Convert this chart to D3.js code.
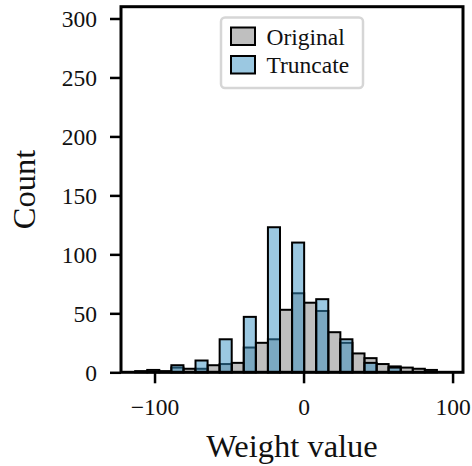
<!DOCTYPE html>
<html>
<head>
<meta charset="utf-8">
<script src="https://cdn.jsdelivr.net/npm/d3@7"></script>
<style>
  html, body { margin: 0; padding: 0; background: #fff; }
  svg { display: block; font-family: "Liberation Serif", "DejaVu Serif", serif; }
</style>
</head>
<body>
<div id="chart-area"></div>
<script>
// shared bin edges (weight value)
const binEdges = [-113, -104.9, -96.8, -88.7, -80.6, -72.5, -64.4, -56.3, -48.2, -40.1,
  -32, -23.9, -15.8, -7.7, 0.4, 8.5, 16.6, 24.7, 32.8, 40.9, 49, 57.1, 65.2, 73.3, 81.4, 89.5];
const originalCounts = [1, 2, 1, 4, 3, 3, 6, 7, 8, 21, 25, 28, 53, 67, 59, 52, 34, 25, 16, 12, 7, 5, 4, 3, 2];
const truncateCounts = [0, 0, 0, 6, 0, 10, 0, 28, 0, 47, 0, 123, 0, 110, 0, 62, 0, 28, 0, 8, 0, 4, 0, 0, 0];
const seriesNames = ["Original", "Truncate"];
const xTicks = [-100, 0, 100];
const yTicks = [0, 50, 100, 150, 200, 250, 300];

const width = 472;
const height = 466;
const box = { left: 121, right: 463, top: 6.7, bottom: 372.3 };

const grayFill = "rgba(128,128,128,0.5)";
const blueFill = "rgba(55,145,195,0.5)";

const svg = d3
  .select("#chart-area")
  .append("svg")
  .attr("width", width)
  .attr("height", height);

const x = d3.scaleLinear().domain([-122.5, 107]).range([box.left, box.right]);
const y = d3.scaleLinear().domain([0, 310]).range([box.bottom, box.top]);

const bins = (counts) =>
  counts.map((c, i) => ({ x0: binEdges[i], x1: binEdges[i + 1], count: c })).filter((d) => d.count > 0);

function drawBars(data, fill) {
  svg
    .append("g")
    .selectAll("rect")
    .data(data)
    .join("rect")
    .attr("x", (d) => x(d.x0))
    .attr("width", (d) => x(d.x1) - x(d.x0))
    .attr("y", (d) => y(d.count))
    .attr("height", (d) => y(0) - y(d.count))
    .attr("fill", fill)
    .attr("stroke", "#000")
    .attr("stroke-width", 2);
}

drawBars(bins(originalCounts), grayFill);
drawBars(bins(truncateCounts), blueFill);

// x axis
const xAxis = svg
  .append("g")
  .attr("transform", `translate(0, ${box.bottom})`)
  .call(
    d3
      .axisBottom(x)
      .tickValues(xTicks)
      .tickSize(11)
      .tickSizeOuter(0)
      .tickPadding(8)
      .tickFormat((d) => (d < 0 ? "\u2212" + Math.abs(d) : d))
  );
xAxis.select(".domain").remove();
xAxis.selectAll("line").attr("stroke", "#000").attr("stroke-width", 2.5);
xAxis
  .selectAll("text")
  .attr("font-family", "Liberation Serif, serif")
  .attr("font-size", 23.5)
  .attr("fill", "#111")
  .attr("dy", null)
  .attr("y", 43);

// y axis
const yAxis = svg
  .append("g")
  .attr("transform", `translate(${box.left}, 0)`)
  .call(d3.axisLeft(y).tickValues(yTicks).tickSize(11).tickSizeOuter(0).tickPadding(13));
yAxis.select(".domain").remove();
yAxis.selectAll("line").attr("stroke", "#000").attr("stroke-width", 2.5);
yAxis
  .selectAll("text")
  .attr("font-family", "Liberation Serif, serif")
  .attr("font-size", 23.5)
  .attr("fill", "#111")
  .attr("dy", "0.34em");

// frame
svg
  .append("rect")
  .attr("x", box.left)
  .attr("y", box.top)
  .attr("width", box.right - box.left)
  .attr("height", box.bottom - box.top)
  .attr("fill", "none")
  .attr("stroke", "#000")
  .attr("stroke-width", 3);

// axis labels
svg
  .append("text")
  .attr("x", (box.left + box.right) / 2)
  .attr("y", 457)
  .attr("text-anchor", "middle")
  .attr("font-size", 32.5)
  .attr("fill", "#111")
  .text("Weight value");

svg
  .append("text")
  .attr("transform", `translate(35, ${(box.top + box.bottom) / 2}) rotate(-90)`)
  .attr("text-anchor", "middle")
  .attr("font-size", 32.5)
  .attr("fill", "#111")
  .text("Count");

// legend
const legend = svg.append("g").attr("id", "legend-area");
legend
  .append("rect")
  .attr("x", 221)
  .attr("y", 17.5)
  .attr("width", 142)
  .attr("height", 70.5)
  .attr("rx", 4)
  .attr("fill", "rgba(255,255,255,0.8)")
  .attr("stroke", "#d6d6d6")
  .attr("stroke-width", 2.5);

legend
  .selectAll("rect.swatch")
  .data(seriesNames)
  .join("rect")
  .attr("class", "swatch")
  .attr("x", 231)
  .attr("y", (d, i) => 27.5 + i * 28.5)
  .attr("width", 24)
  .attr("height", 17.5)
  .attr("fill", (d, i) => (i === 0 ? grayFill : blueFill))
  .attr("stroke", "#000")
  .attr("stroke-width", 2);

legend
  .selectAll("text")
  .data(seriesNames)
  .join("text")
  .attr("x", 266.5)
  .attr("y", (d, i) => 44.5 + i * 28.8)
  .attr("font-size", 23.5)
  .attr("fill", "#111")
  .text((d) => d);
</script>
</body>
</html>
